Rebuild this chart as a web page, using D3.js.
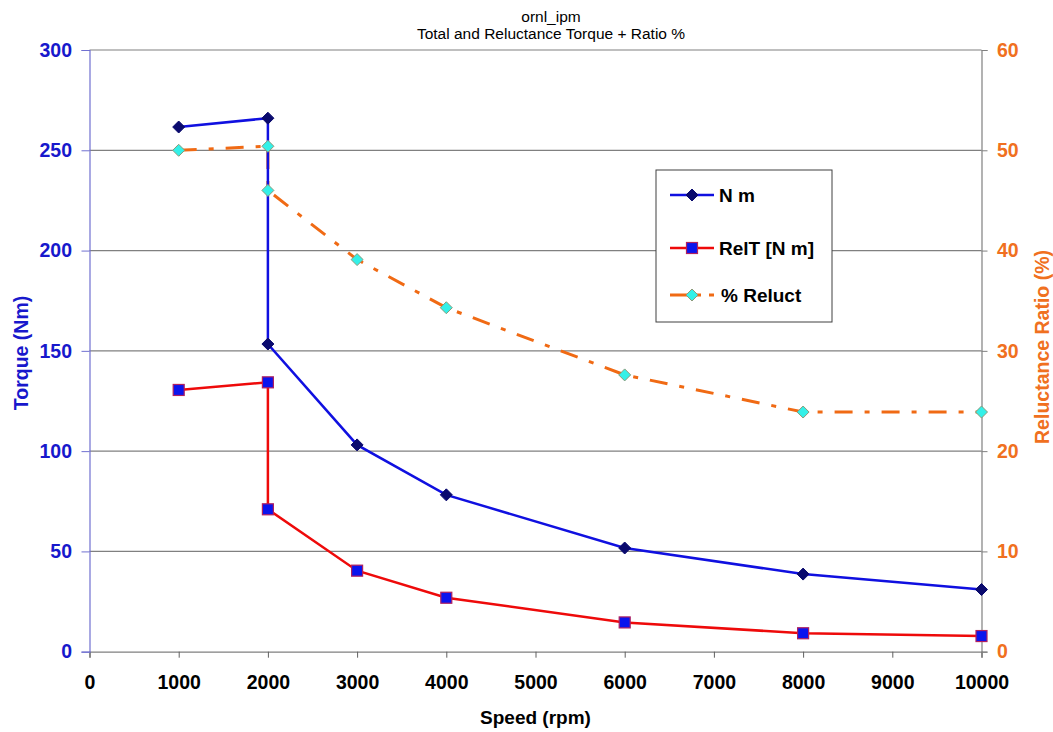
<!DOCTYPE html>
<html><head><meta charset="utf-8">
<script src="https://cdn.jsdelivr.net/npm/d3@7"></script>
<style>body{margin:0;background:#fff;}svg{display:block;font-family:"Liberation Sans",Arial,sans-serif;}</style>
</head><body>
<svg id="c" width="1053" height="732"></svg>
<script>
const speed = [1000, 2000, 2000, 3000, 4000, 6000, 8000, 10000];
const torqueNm = [261.6, 266, 153.4, 103.1, 78.2, 51.7, 38.7, 31];
const relT = [130.5, 134.3, 71, 40.4, 26.9, 14.6, 9.2, 7.8];
const reluctPct = [50, 50.4, 46, 39.1, 34.3, 27.6, 23.9, 23.9];
const xTicks = [0,1000,2000,3000,4000,5000,6000,7000,8000,9000,10000];
const yTicks = [0,50,100,150,200,250,300];
const y2Ticks = [0,10,20,30,40,50,60];
const legendLabels = ["N m", "RelT [N m]", "% Reluct"];

const svg = d3.select("#c");
const L=89.5, R=981.5, T=50, B=651.7;
const x = d3.scaleLinear().domain([0,10000]).range([L,R]);
const y = d3.scaleLinear().domain([0,300]).range([B,T]);
const y2 = d3.scaleLinear().domain([0,60]).range([B,T]);
const FF = "Liberation Sans, Arial, sans-serif";

// gridlines
svg.append("g").selectAll("line").data(yTicks.filter(d=>d>0)).join("line")
  .attr("x1",L).attr("x2",R).attr("y1",d=>y(d)).attr("y2",d=>y(d))
  .attr("stroke","#808080").attr("stroke-width",1.2);

// x axis
const gx = svg.append("g").attr("transform",`translate(0,${B})`)
  .call(d3.axisBottom(x).tickValues(xTicks).tickSize(6).tickPadding(17).tickFormat(d3.format("d")));
gx.select(".domain").attr("stroke","#808080").attr("stroke-width",1.2);
gx.selectAll(".tick line").attr("stroke","#606060");
gx.selectAll("text").attr("font-size",19.5).attr("font-weight","bold").attr("fill","#000").attr("font-family",FF);

// left axis
const gy = svg.append("g").attr("transform",`translate(${L},0)`)
  .call(d3.axisLeft(y).tickValues(yTicks).tickSize(8).tickPadding(9.5));
gy.select(".domain").attr("stroke","#7070d0").attr("stroke-width",1.2);
gy.selectAll(".tick line").attr("stroke","#7070d0");
gy.selectAll("text").attr("font-size",19.5).attr("font-weight","bold").attr("fill","#1818cc").attr("font-family",FF);

// right axis
const gy2 = svg.append("g").attr("transform",`translate(${R},0)`)
  .call(d3.axisRight(y2).tickValues(y2Ticks).tickSize(6).tickPadding(9.5));
gy2.select(".domain").attr("stroke","#808080").attr("stroke-width",1.2);
gy2.selectAll(".tick line").attr("stroke","#808080");
gy2.selectAll("text").attr("font-size",19.5).attr("font-weight","bold").attr("fill","#f07020").attr("font-family",FF);

// titles
svg.append("text").attr("x",551).attr("y",22).attr("text-anchor","middle").attr("font-size",15.5).text("ornl_ipm");
svg.append("text").attr("x",551).attr("y",39).attr("text-anchor","middle").attr("font-size",15.5).text("Total and Reluctance Torque + Ratio %");
svg.append("text").attr("x",(L+R)/2).attr("y",724).attr("text-anchor","middle").attr("font-size",19).attr("font-weight","bold").text("Speed (rpm)");
svg.append("text").attr("transform","translate(28,353) rotate(-90)").attr("text-anchor","middle")
  .attr("font-size",19.5).attr("font-weight","bold").attr("fill","#1818cc").text("Torque (Nm)");
svg.append("text").attr("transform","translate(1049,347) rotate(-90)").attr("text-anchor","middle")
  .attr("font-size",19.5).attr("font-weight","bold").attr("fill","#f07020").text("Reluctance Ratio (%)");

const pts = (arr, ys) => speed.map((s,i)=>[x(s), ys(arr[i])]);
const line = d3.line();
const diamond = (g, cx, cy, r, fill, stroke) => g.append("path")
  .attr("d",`M${cx},${cy-r}L${cx+r},${cy}L${cx},${cy+r}L${cx-r},${cy}Z`)
  .attr("fill",fill).attr("stroke",stroke).attr("stroke-width",1);
const square = (g, cx, cy, r, fill, stroke) => g.append("rect")
  .attr("x",cx-r).attr("y",cy-r).attr("width",2*r).attr("height",2*r)
  .attr("fill",fill).attr("stroke",stroke).attr("stroke-width",1.2);

// Reluct series (right axis)
const p3 = pts(reluctPct, y2);
svg.append("path").attr("d",line(p3)).attr("fill","none").attr("stroke","#f06a14")
  .attr("stroke-width",3).attr("stroke-dasharray","18,12,5,12");
// Torque
const p1 = pts(torqueNm, y);
svg.append("path").attr("d",line(p1)).attr("fill","none").attr("stroke","#1010e0").attr("stroke-width",2.5);
// RelT
const p2 = pts(relT, y);
svg.append("path").attr("d",line(p2)).attr("fill","none").attr("stroke","#ee0a0a").attr("stroke-width",2.5);

const mg = svg.append("g");
p1.forEach(p=>diamond(mg,p[0],p[1],6,"#0a0a6e","#0a0a6e"));
p2.forEach(p=>square(mg,p[0],p[1],5.5,"#0a14ee","#b02060"));
p3.forEach(p=>diamond(mg,p[0],p[1],6,"#33f0e8","#8a9a7a"));

// legend
const lg = svg.append("g");
lg.append("rect").attr("x",656).attr("y",170).attr("width",176).attr("height",152)
  .attr("fill","#fff").attr("stroke","#404040").attr("stroke-width",1);
const ly = [195, 248, 295];
const lcol = ["#1010e0","#ee0a0a","#f06a14"];
ly.forEach((yy,i)=>{
  const ln = lg.append("line").attr("x1",670).attr("x2",714).attr("y1",yy).attr("y2",yy)
    .attr("stroke",lcol[i]).attr("stroke-width",i===2?3:2.5);
  if(i===2) ln.attr("stroke-dasharray","18,8,5,8");
  if(i===0) diamond(lg,692,yy,6,"#0a0a6e","#0a0a6e");
  if(i===1) square(lg,692,yy,5.5,"#0a14ee","#b02060");
  if(i===2) diamond(lg,692,yy,6,"#33f0e8","#8a9a7a");
  lg.append("text").attr("x",i===2?721:719).attr("y",yy+7).attr("font-size",19).attr("font-weight","bold")
    .attr("font-family",FF).text(legendLabels[i]);
});
</script>
</body></html>
